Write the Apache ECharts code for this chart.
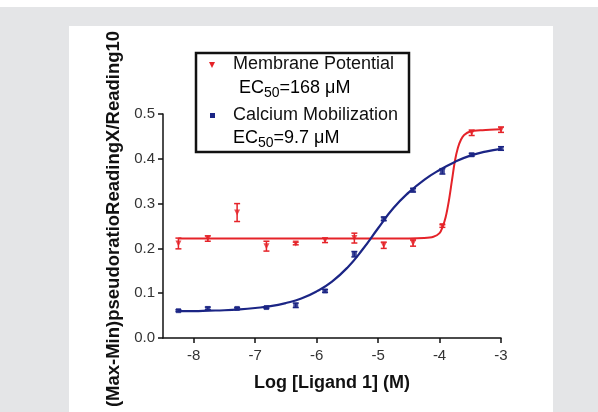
<!DOCTYPE html>
<html>
<head>
<meta charset="utf-8">
<script src="https://cdn.jsdelivr.net/npm/echarts@6/dist/echarts.min.js"></script>
<style>
  html, body { margin: 0; padding: 0; background: #ffffff; }
  #bg { position: absolute; left: 0; top: 7px; width: 598px; height: 405px; background: #e4e5e7; }
  #panel { position: absolute; left: 69px; top: 26px; width: 484px; height: 386px; background: #ffffff; }
  #main { position: absolute; left: 0; top: 0; width: 598px; height: 412px; }
</style>
</head>
<body>
<div id="bg"></div>
<div id="panel"></div>
<div id="main"></div>
<script>
// log concentration (3-fold dilution series)
const logDose = [-8.249, -7.771, -7.294, -6.817, -6.340, -5.863, -5.386, -4.908, -4.431, -3.954, -3.477, -3.0];
// Membrane Potential: mean and error
const membraneMean = [0.211, 0.222, 0.280, 0.205, 0.211, 0.218, 0.223, 0.207, 0.212, 0.250, 0.458, 0.465];
const membraneErr  = [0.012, 0.006, 0.020, 0.011, 0.003, 0.005, 0.011, 0.007, 0.007, 0.003, 0.006, 0.006];
// Calcium Mobilization: mean and error
const calciumMean = [0.061, 0.066, 0.066, 0.068, 0.073, 0.105, 0.187, 0.266, 0.330, 0.372, 0.409, 0.423];
const calciumErr  = [0.002, 0.003, 0.002, 0.002, 0.005, 0.003, 0.006, 0.004, 0.004, 0.006, 0.003, 0.004];
// fitted curves
const membraneFitX = [-8.25, -7, -6, -5, -4.5, -4.25, -4.1, -4.0, -3.95, -3.9, -3.85, -3.8, -3.75, -3.7, -3.65, -3.6, -3.5, -3.3, -3.0];
const membraneFitY = [0.222, 0.222, 0.222, 0.222, 0.222, 0.223, 0.226, 0.234, 0.248, 0.270, 0.305, 0.350, 0.395, 0.425, 0.443, 0.453, 0.461, 0.464, 0.466];
const calciumFitX = [-8.25, -8, -7.75, -7.5, -7.25, -7, -6.75, -6.5, -6.25, -6, -5.75, -5.5, -5.25, -5, -4.75, -4.5, -4.25, -4, -3.75, -3.5, -3.25, -3];
const calciumFitY = [0.060, 0.060, 0.061, 0.062, 0.064, 0.067, 0.071, 0.078, 0.088, 0.104, 0.126, 0.157, 0.198, 0.245, 0.290, 0.325, 0.353, 0.375, 0.393, 0.407, 0.416, 0.422];
const xTicks = [-8, -7, -6, -5, -4, -3];

const RED = '#e52329';
const BLUE = '#1b2585';
const FONT = '"Liberation Sans", Arial, sans-serif';

const zip = (a, b) => a.map((v, i) => [v, b[i]]);
const bars = (mean, err) => logDose.map((x, i) => [x, mean[i] - err[i], mean[i] + err[i]]);

function errorBar(color) {
  return function (params, api) {
    const x = api.value(0);
    const lo = api.coord([x, api.value(1)]);
    const hi = api.coord([x, api.value(2)]);
    const w = 3;
    const st = { stroke: color, lineWidth: 1.5 };
    return {
      type: 'group',
      children: [
        { type: 'line', shape: { x1: lo[0], y1: lo[1], x2: hi[0], y2: hi[1] }, style: st },
        { type: 'line', shape: { x1: hi[0] - w, y1: hi[1], x2: hi[0] + w, y2: hi[1] }, style: st },
        { type: 'line', shape: { x1: lo[0] - w, y1: lo[1], x2: lo[0] + w, y2: lo[1] }, style: st }
      ]
    };
  };
}

const ecRich = {
  n: { fontSize: 18, fontFamily: FONT, color: '#111', lineHeight: 20 },
  s: { fontSize: 14, fontFamily: FONT, color: '#111', lineHeight: 16, padding: [11, 0, 0, 0] }
};

let myChart = echarts.init(document.getElementById('main'));
myChart.setOption({
  backgroundColor: 'transparent',
  animation: false,
  grid: { left: 163, right: 97, top: 114, bottom: 74 },
  xAxis: {
    type: 'value',
    min: -8.5,
    max: -3,
    name: 'Log [Ligand 1] (M)',
    nameLocation: 'middle',
    nameGap: 36,
    nameTextStyle: { fontFamily: FONT, fontSize: 18, fontWeight: 'bold', color: '#111' },
    axisLine: { lineStyle: { color: '#111', width: 1.5 } },
    axisTick: { show: true, length: 5, customValues: xTicks, lineStyle: { color: '#111', width: 1.5 } },
    axisLabel: { customValues: xTicks, margin: 10, fontFamily: FONT, fontSize: 15, color: '#333' },
    splitLine: { show: false }
  },
  yAxis: {
    type: 'value',
    min: 0,
    max: 0.5,
    interval: 0.1,
    name: '(Max-Min)pseudoratioReadingX/Reading10',
    nameLocation: 'middle',
    nameGap: 40,
    nameTextStyle: { fontFamily: FONT, fontSize: 18.5, fontWeight: 'bold', color: '#111', padding: [0, 0, 0, 14] },
    axisLine: { show: true, lineStyle: { color: '#111', width: 1.5 } },
    axisTick: { show: true, length: 5, lineStyle: { color: '#111', width: 1.5 } },
    axisLabel: { margin: 8, fontFamily: FONT, fontSize: 15, color: '#333', formatter: v => v.toFixed(1) },
    splitLine: { show: false }
  },
  series: [
    {
      name: 'Membrane fit', type: 'line', data: zip(membraneFitX, membraneFitY),
      showSymbol: false, smooth: 0.3,
      lineStyle: { color: RED, width: 2 }, z: 2
    },
    {
      name: 'Calcium fit', type: 'line', data: zip(calciumFitX, calciumFitY),
      showSymbol: false, smooth: 0.5,
      lineStyle: { color: BLUE, width: 2.2 }, z: 2
    },
    { type: 'custom', renderItem: errorBar(RED), data: bars(membraneMean, membraneErr), z: 3 },
    { type: 'custom', renderItem: errorBar(BLUE), data: bars(calciumMean, calciumErr), z: 3 },
    {
      name: 'Membrane Potential', type: 'scatter', data: zip(logDose, membraneMean),
      symbol: 'triangle', symbolRotate: 180, symbolSize: 6, itemStyle: { color: RED }, z: 4
    },
    {
      name: 'Calcium Mobilization', type: 'scatter', data: zip(logDose, calciumMean),
      symbol: 'rect', symbolSize: 5, itemStyle: { color: BLUE }, z: 4
    }
  ],
  graphic: [
    {
      type: 'rect', shape: { x: 196, y: 53, width: 213, height: 99 },
      style: { fill: '#fff', stroke: '#111', lineWidth: 2.5 }, z: 10
    },
    {
      type: 'polygon', shape: { points: [[209, 62], [215, 62], [212, 68]] },
      style: { fill: RED }, z: 11
    },
    {
      type: 'rect', shape: { x: 210, y: 113, width: 5, height: 5 },
      style: { fill: BLUE }, z: 11
    },
    {
      type: 'text', x: 233, y: 64, z: 11,
      style: { text: 'Membrane Potential', fontFamily: FONT, fontSize: 18, fill: '#111', verticalAlign: 'middle' }
    },
    {
      type: 'text', x: 239, y: 88, z: 11,
      style: { text: '{n|EC}{s|50}{n|=168 μM}', rich: ecRich, verticalAlign: 'middle' }
    },
    {
      type: 'text', x: 233, y: 115, z: 11,
      style: { text: 'Calcium Mobilization', fontFamily: FONT, fontSize: 18, fill: '#111', verticalAlign: 'middle' }
    },
    {
      type: 'text', x: 233, y: 138, z: 11,
      style: { text: '{n|EC}{s|50}{n|=9.7 μM}', rich: ecRich, verticalAlign: 'middle' }
    }
  ]
});
window.onresize = function () {
  myChart.resize();
};
</script>
</body>
</html>
